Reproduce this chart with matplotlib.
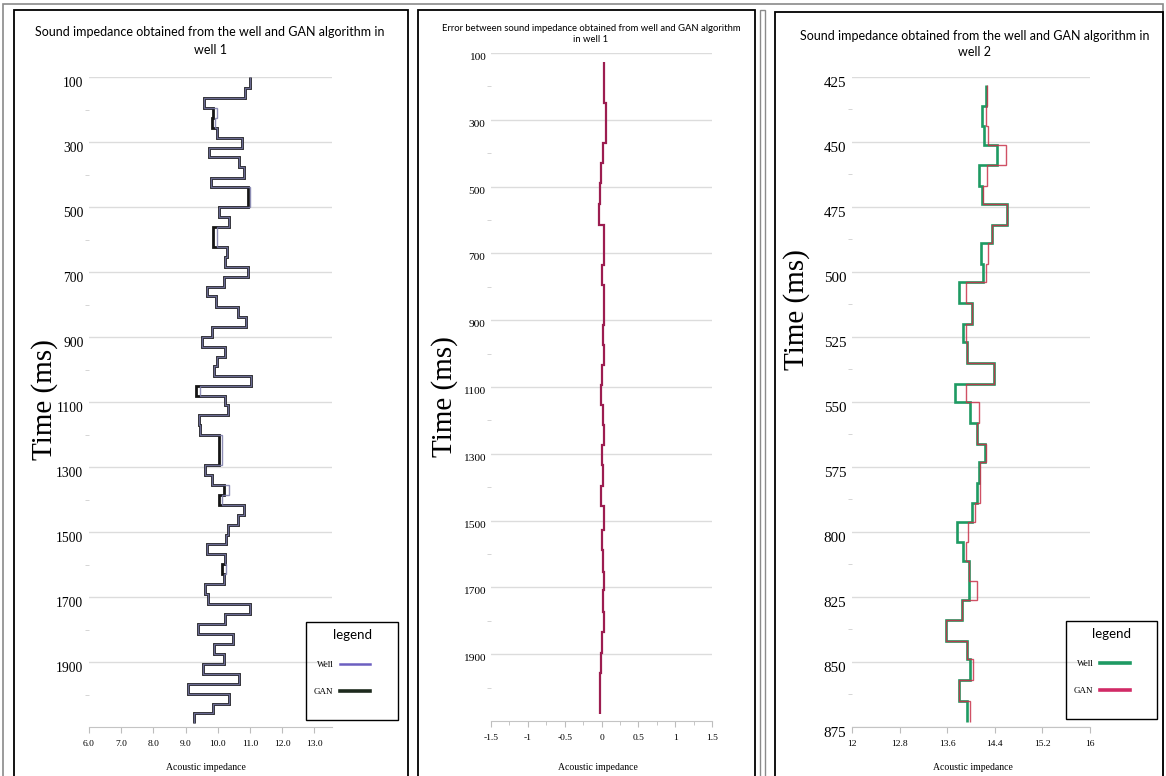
import matplotlib
matplotlib.use('Agg')
import matplotlib.pyplot as plt
from matplotlib.lines import Line2D
from matplotlib.patches import Rectangle
from matplotlib.ticker import FixedLocator, MultipleLocator

# well 1: step edges (ms) and acoustic impedance of each layer
w1_time = [100, 134, 165, 195, 226, 257, 288, 318, 346, 377,
           411, 438, 500, 531, 562, 623, 654, 685, 715, 746,
           774, 808, 838, 869, 900, 931, 962, 989, 1020, 1051,
           1082, 1109, 1140, 1171, 1202, 1294, 1325, 1355, 1386, 1417,
           1448, 1478, 1509, 1537, 1568, 1598, 1629, 1660, 1691, 1722,
           1752, 1783, 1814, 1845, 1875, 1906, 1937, 1968, 1998, 2029,
           2057, 2088]
w1_well = [11.0, 10.84, 9.56, 9.97, 9.90, 9.97, 10.75, 9.72, 10.66, 10.81,
           9.78, 11.0, 10.03, 10.34, 9.97, 10.28, 10.22, 10.94, 10.19, 9.66,
           9.94, 10.63, 10.88, 9.81, 9.5, 10.22, 9.97, 9.88, 11.03, 9.44,
           10.22, 10.31, 9.41, 9.44, 10.12, 9.59, 9.81, 10.34, 10.12, 10.81,
           10.63, 10.31, 10.25, 9.66, 10.22, 10.25, 10.19, 9.59, 9.69, 11.0,
           10.22, 9.38, 10.47, 9.88, 10.19, 9.53, 10.66, 9.09, 10.34, 9.84,
           9.25]
w1_gan = [11.0, 10.84, 9.56, 9.84, 9.81, 9.97, 10.75, 9.72, 10.66, 10.81,
          9.78, 10.94, 10.03, 10.34, 9.84, 10.28, 10.22, 10.94, 10.19, 9.66,
          9.94, 10.63, 10.88, 9.81, 9.5, 10.22, 9.97, 9.88, 11.03, 9.34,
          10.22, 10.31, 9.41, 9.44, 10.03, 9.59, 9.81, 10.19, 10.03, 10.81,
          10.63, 10.31, 10.25, 9.66, 10.22, 10.13, 10.19, 9.59, 9.69, 11.0,
          10.22, 9.38, 10.47, 9.88, 10.19, 9.53, 10.66, 9.09, 10.34, 9.84,
          9.25]

# error between well and GAN in well 1
err_time = [127, 190, 250, 370, 430, 489, 552, 615, 675, 735,
            795, 855, 915, 975, 1035, 1095, 1155, 1215, 1275, 1335,
            1395, 1455, 1528, 1588, 1654, 1708, 1774, 1834, 1896, 1956,
            2079]
err_val = [0.04, 0.03, 0.055, 0.015, -0.005, -0.025, -0.04, 0.03, 0.035, 0.01,
           0.03, 0.04, 0.02, 0.035, 0.01, -0.01, 0.02, 0.03, 0.0, 0.025,
           -0.005, 0.03, 0.0, 0.015, 0.04, 0.015, 0.04, 0.01, -0.005, -0.02]

# well 2
w2_time = [428, 436, 444, 451, 459, 467, 474, 482, 489, 497,
           504, 512, 520, 527, 535, 543, 550, 558, 566, 573,
           581, 589, 596, 604, 611, 619, 626, 634, 642, 649,
           657, 665, 673]
w2_well = [14.25, 14.18, 14.22, 14.44, 14.13, 14.18, 14.61, 14.35, 14.17, 14.20,
           13.80, 14.02, 13.87, 13.93, 14.39, 13.73, 13.98, 14.10, 14.24, 14.13,
           14.10, 14.02, 13.76, 13.87, 13.97, 13.97, 13.85, 13.58, 13.93, 13.98,
           13.80, 13.93]
w2_gan = [14.27, 14.25, 14.29, 14.59, 14.27, 14.20, 14.61, 14.35, 14.29, 14.25,
          13.92, 14.02, 13.92, 13.93, 14.39, 13.92, 14.13, 14.10, 14.25, 14.15,
          14.15, 14.07, 13.95, 13.92, 13.97, 14.10, 13.85, 13.58, 13.93, 14.03,
          13.80, 13.98]

w1_yticks = [100, 300, 500, 700, 900, 1100, 1300, 1500, 1700, 1900]
w1_xticks = [6, 7, 8, 9, 10, 11, 12, 13]
err_xticks = [-1.5, -1, -0.5, 0, 0.5, 1, 1.5]
err_xlabels = ['-1.5', '-1', '-0.5', '0', '0.5', '1', '1.5']
w2_yticks = [425, 450, 475, 500, 525, 550, 575, 600, 625, 650, 675]
w2_ylabels = ['425', '450', '475', '500', '525', '550', '575', '800', '825', '850', '875']
w2_xticks = [12, 12.8, 13.6, 14.4, 15.2, 16]

W, H = 1166, 776
SERIF = 'Liberation Serif'
SANS = 'Lato'

fig = plt.figure(figsize=(W / 100, H / 100), dpi=100)


def add_ax(x0, y0, x1, y1):
    return fig.add_axes([x0 / W, 1 - y1 / H, (x1 - x0) / W, (y1 - y0) / H])


def frame(x0, y0, x1, y1, color='black', lw=1.3):
    fig.patches.append(Rectangle((x0 / W, 1 - y1 / H), (x1 - x0) / W, (y1 - y0) / H,
                                 transform=fig.transFigure, fill=False,
                                 edgecolor=color, linewidth=lw, zorder=5))


def style(ax, ysize):
    for s in ['top', 'right', 'left']:
        ax.spines[s].set_visible(False)
    ax.spines['bottom'].set_color('#c4c4c4')
    ax.yaxis.grid(True, which='major', color='#dcdcdc', lw=1)
    ax.set_axisbelow(True)
    ax.tick_params(axis='y', which='major', length=0, pad=4, labelsize=ysize)
    ax.tick_params(axis='y', which='minor', length=3, color='#cfcfcf')
    ax.tick_params(axis='x', which='both', length=4, color='#bdbdbd', pad=5, labelsize=6.8)
    for lab in ax.get_xticklabels() + ax.get_yticklabels():
        lab.set_family(SERIF)


def legend_box(ax, handles, x0, y0, x1, y1):
    # box and title drawn separately, entries from ax.legend without frame
    ax.legend(handles, ['Well', 'GAN'], markerfirst=False,
              loc='upper left', bbox_to_anchor=(x0 / W, 1 - (y0 + 31) / H),
              bbox_transform=fig.transFigure, frameon=False,
              borderpad=0.4, labelspacing=2.0, handlelength=3.3, handletextpad=0.7,
              prop={'family': SERIF, 'size': 6.5})
    fig.text((x0 + x1) / 2 / W, 1 - (y0 + 13) / H, 'legend', ha='center', va='center',
             family=SANS, fontsize=9.5)
    frame(x0, y0, x1, y1, lw=1.0)


# frames around the three panels
frame(3, 4, 1163, 790, color='#8a8a8a', lw=1.2)
frame(14, 10, 408, 790)
frame(418, 10, 755, 790)
frame(760, 10, 765, 790, color='#8a8a8a', lw=1.0)
frame(775, 12, 1163, 790)

# ---- panel 1
ax1 = add_ax(89, 77, 332, 727)
ax1.stairs(w1_gan, w1_time, orientation='horizontal', baseline=None,
           color='#151515', lw=2.0)
ax1.stairs(w1_well, w1_time, orientation='horizontal', baseline=None,
           color='#7a7aa8', lw=1.0, alpha=0.85)
ax1.set_xlim(6, 13.55)
ax1.set_ylim(2100, 100)
ax1.yaxis.set_major_locator(FixedLocator(w1_yticks))
ax1.yaxis.set_minor_locator(FixedLocator([200, 400, 600, 800, 1000, 1200, 1400, 1600, 1800, 2000]))
ax1.set_xticks(w1_xticks)
ax1.set_xticklabels(['%.1f' % v for v in w1_xticks])
style(ax1, 9.8)
plt.setp(ax1.get_yticklabels(), va='top')

legend_box(ax1, [Line2D([], [], color='#6c5fc0', lw=1.8), Line2D([], [], color='#1d2a1d', lw=2.6)],
           306, 622, 398, 720)

# ---- panel 2
ax2 = add_ax(491, 53, 712, 721)
ax2.stairs(err_val, err_time, orientation='horizontal', baseline=None,
           color='#9c1d50', lw=1.6)
ax2.set_xlim(-1.5, 1.5)
ax2.set_ylim(2100, 100)
ax2.yaxis.set_major_locator(FixedLocator(w1_yticks))
ax2.yaxis.set_minor_locator(FixedLocator([200, 400, 600, 800, 1000, 1200, 1400, 1600, 1800, 2000]))
ax2.set_xticks(err_xticks)
ax2.set_xticklabels(err_xlabels)
ax2.xaxis.set_minor_locator(MultipleLocator(0.25))
style(ax2, 8.2)
ax2.tick_params(axis='x', which='minor', length=3)
plt.setp(ax2.get_yticklabels(), va='top')

# ---- panel 3
ax3 = add_ax(852, 77, 1090, 727)
ax3.stairs(w2_well, w2_time, orientation='horizontal', baseline=None,
           color='#1e9a63', lw=1.9)
ax3.stairs(w2_gan, w2_time, orientation='horizontal', baseline=None,
           color='#c8324a', lw=1.0, alpha=0.85)
ax3.set_xlim(12, 16)
ax3.set_ylim(675, 425)
ax3.yaxis.set_major_locator(FixedLocator(w2_yticks))
ax3.set_yticklabels(w2_ylabels)
ax3.yaxis.set_minor_locator(FixedLocator([437.5, 462.5, 487.5, 512.5, 537.5, 562.5,
                                          587.5, 612.5, 637.5, 662.5]))
ax3.set_xticks(w2_xticks)
ax3.set_xticklabels(['12', '12.8', '13.6', '14.4', '15.2', '16'])
style(ax3, 10.8)
plt.setp(ax3.get_yticklabels(), va='top')

legend_box(ax3, [Line2D([], [], color='#1e9a63', lw=2.6), Line2D([], [], color='#d12a66', lw=2.6)],
           1066, 621, 1157, 719)

# ---- titles and axis labels
fig.text(210 / W, 1 - 41 / H,
         'Sound impedance obtained from the well and GAN algorithm in\nwell 1',
         ha='center', va='center', family=SANS, fontsize=9, linespacing=1.5)
fig.text(591 / W, 1 - 34 / H,
         'Error between sound impedance obtained from well and GAN algorithm\nin well 1',
         ha='center', va='center', family=SANS, fontsize=6.8, linespacing=1.4)
fig.text(975 / W, 1 - 44 / H,
         'Sound impedance obtained from the well and GAN algorithm in\nwell 2',
         ha='center', va='center', family=SANS, fontsize=9, linespacing=1.5)

for x, y in [(45, 400), (445, 397), (797, 310)]:
    fig.text(x / W, 1 - y / H, 'Time (ms)', rotation=90, ha='center', va='center',
             family=SERIF, fontsize=21)

for x in [206, 598, 973]:
    fig.text(x / W, 1 - 767 / H, 'Acoustic impedance', ha='center', va='center',
             family=SERIF, fontsize=7)

fig.savefig('out.png', dpi=100)
